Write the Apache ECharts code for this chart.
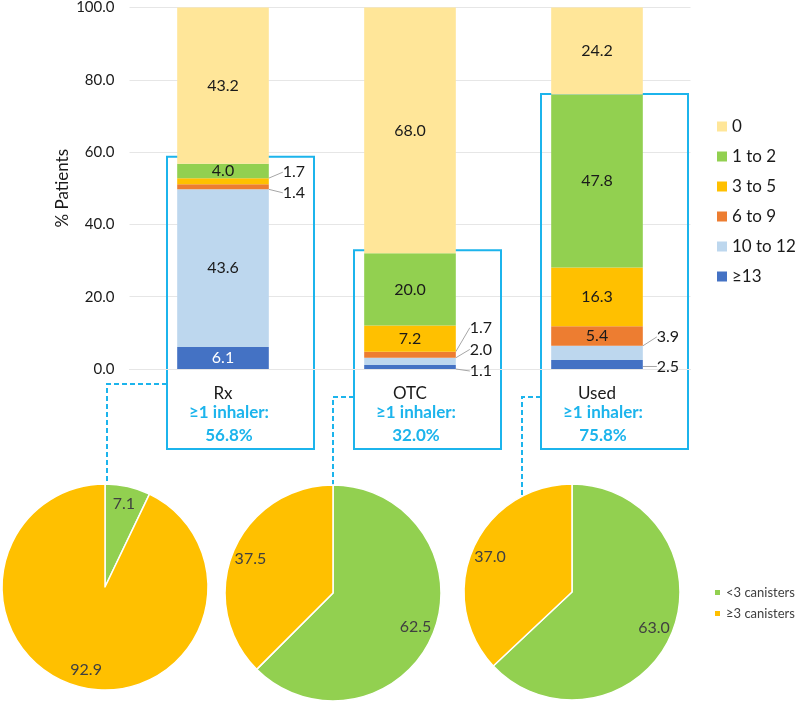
<!DOCTYPE html>
<html lang="en">
<head>
<meta charset="UTF-8">
<title>Inhaler canisters</title>
<script src="https://cdn.jsdelivr.net/npm/echarts@6/dist/echarts.min.js"></script>
<style>
  html, body { margin: 0; padding: 0; background: #fff; }
  #main { width: 796px; height: 706px; }
</style>
</head>
<body>
<div id="main"></div>
<script>
// categories and stacked % patients, bottom (>=13) to top (0)
var categories = ['Rx', 'OTC', 'Used'];
var barNames = ['0', '1 to 2', '3 to 5', '6 to 9', '10 to 12', '≥13'];
var zero = [43.2, 68.0, 24.2];
var oneToTwo = [4.0, 20.0, 47.8];
var threeToFive = [1.7, 7.2, 16.3];
var sixToNine = [1.4, 1.7, 5.4];
var tenToTwelve = [43.6, 2.0, 3.9];
var thirteenUp = [6.1, 1.1, 2.5];
var anyInhaler = [56.8, 32.0, 75.8];
var yTicks = [0, 20, 40, 60, 80, 100];

// pies: share of canisters among patients with >=1 inhaler
var pieNames = ['<3 canisters', '≥3 canisters'];
var underThree = [7.1, 62.5, 63.0];
var threeUp = [92.9, 37.5, 37.0];

var CYAN = '#1CB4EC';
var FONT = 'Lato';
var barColors = {
    '0': '#FFE699', '1 to 2': '#92D050', '3 to 5': '#FFC000',
    '6 to 9': '#ED7D31', '10 to 12': '#BDD7EE', '≥13': '#4472C4'
};
var stackOrder = [
    ['≥13', thirteenUp], ['10 to 12', tenToTwelve], ['6 to 9', sixToNine],
    ['3 to 5', threeToFive], ['1 to 2', oneToTwo], ['0', zero]
];
// vertical nudge (px) of the little labels set beside the bar
var sideShift = {
    '3 to 5': [-9, 0, 0], '6 to 9': [6, -27, 0],
    '10 to 12': [0, -12, -16], '≥13': [0, 4, 2]
};
// pie placement
var pieLayout = [
    {c: [105, 587], r: 103},
    {c: [333, 593], r: 108},
    {c: [572, 592], r: 108}
];
var boxPad = [7, 3, 1];       // px above the bar top
var lineDrop = [15, 28, 28];  // connector start below axis
var dropX = [2, 0, -50];      // connector x vs pie centre

var chart = echarts.init(document.getElementById('main'));

var series = stackOrder.map(function (s) {
    var name = s[0];
    return {
        name: name,
        type: 'bar',
        stack: 'p',
        barWidth: '49%',
        itemStyle: {color: barColors[name]},
        label: {
            show: true, position: 'inside', fontFamily: FONT, fontSize: 16,
            color: name === '≥13' ? '#fff' : '#1a1a1a',
            formatter: function (p) { return p.value.toFixed(1); }
        },
        labelLayout: function (p) {
            var sh = sideShift[name];
            return sh && sh[p.dataIndex] ? {dy: sh[p.dataIndex]} : {};
        },
        data: s[1].map(function (v) {
            if (v >= 4) return v;
            return {
                value: v,
                label: {position: 'right', distance: 14, color: '#1a1a1a'},
                labelLine: {show: true, lineStyle: {color: '#a6a6a6', width: 1}}
            };
        })
    };
});

pieLayout.forEach(function (pl, i) {
    var d = [
        {name: pieNames[0], value: underThree[i], itemStyle: {color: '#92D050'}},
        {name: pieNames[1], value: threeUp[i], itemStyle: {color: '#FFC000'}}
    ];
    series.push({
        type: 'pie', name: categories[i] + ' pie', center: pl.c, radius: [0, pl.r],
        startAngle: 90, clockwise: true,
        itemStyle: {borderColor: '#fff', borderWidth: 1.5},
        label: {show: false}, labelLine: {show: false},
        emphasis: {disabled: true},
        data: d
    });
    // ring on top only to hold the labels further out
    series.push({
        type: 'pie', name: categories[i] + ' lbl', center: pl.c, radius: [pl.r * 0.6, pl.r],
        startAngle: 90, clockwise: true, silent: true,
        itemStyle: {color: 'rgba(0,0,0,0)', borderWidth: 0},
        label: {
            show: true, position: 'inside', fontFamily: FONT, fontSize: 16, color: '#404040',
            formatter: function (p) { return p.value.toFixed(1); }
        },
        labelLine: {show: false},
        emphasis: {disabled: true},
        data: d.map(function (x) { return {name: x.name, value: x.value}; })
    });
});

var option = {
    animation: false,
    grid: {left: 129.5, right: 105.5, top: 7, bottom: 337},
    legend: [{
        data: barNames, orient: 'vertical', left: 712, top: 113,
        icon: 'rect', itemWidth: 10, itemHeight: 10, itemGap: 13,
        textStyle: {fontFamily: FONT, fontSize: 17, color: '#1a1a1a'},
        selectedMode: false
    }, {
        data: pieNames, orient: 'vertical', left: 708, top: 581,
        icon: 'rect', itemWidth: 7, itemHeight: 7, itemGap: 8,
        textStyle: {fontFamily: FONT, fontSize: 13, color: '#404040'},
        selectedMode: false
    }],
    xAxis: {
        type: 'category', data: categories,
        axisLine: {lineStyle: {color: '#E6E6E6'}},
        axisTick: {show: false},
        axisLabel: {fontFamily: FONT, fontSize: 17, color: '#1a1a1a', margin: 16}
    },
    yAxis: {
        type: 'value', min: yTicks[0], max: yTicks[yTicks.length - 1], interval: yTicks[1] - yTicks[0],
        name: '% Patients', nameLocation: 'middle', nameGap: 58, nameRotate: 90,
        nameMoveOverlap: false,
        nameTextStyle: {fontFamily: FONT, fontSize: 17, color: '#1a1a1a'},
        axisLine: {show: false}, axisTick: {show: false},
        splitLine: {lineStyle: {color: '#E6E6E6'}},
        axisLabel: {
            fontFamily: FONT, fontSize: 15, color: '#1a1a1a', margin: 15,
            formatter: function (v) { return v.toFixed(1); }
        }
    },
    series: series
};
chart.setOption(option);

// boxes, texts and dashed links, placed from the axis scales
var gfx = [];
categories.forEach(function (c, i) {
    var base = chart.convertToPixel({xAxisIndex: 0, yAxisIndex: 0}, [c, 0]);
    var top = chart.convertToPixel({xAxisIndex: 0, yAxisIndex: 0}, [c, anyInhaler[i]]);
    var x0 = base[0] - 56, x1 = base[0] + 91;
    var y0 = top[1] - boxPad[i], y1 = base[1] + 80;
    gfx.push({
        type: 'rect', shape: {x: x0, y: y0, width: x1 - x0, height: y1 - y0},
        style: {fill: 'none', stroke: CYAN, lineWidth: 2}
    });
    gfx.push({
        type: 'text', x: base[0] + 6, y: base[1] + 44,
        style: {text: '≥1 inhaler:', align: 'center', verticalAlign: 'middle',
                font: 'bold 17px ' + FONT, fill: CYAN}
    });
    gfx.push({
        type: 'text', x: base[0] + 6, y: base[1] + 67,
        style: {text: anyInhaler[i].toFixed(1) + '%', align: 'center', verticalAlign: 'middle',
                font: 'bold 17px ' + FONT, fill: CYAN}
    });
    var pl = pieLayout[i];
    var lx = pl.c[0] + dropX[i];
    var ly = base[1] + lineDrop[i];
    var ey = pl.c[1] - Math.sqrt(pl.r * pl.r - dropX[i] * dropX[i]);
    gfx.push({
        type: 'polyline', shape: {points: [[x0, ly], [lx, ly], [lx, ey]]},
        style: {fill: 'none', stroke: CYAN, lineWidth: 2, lineDash: [5, 3]}
    });
});
chart.setOption({graphic: gfx});
</script>
</body>
</html>
